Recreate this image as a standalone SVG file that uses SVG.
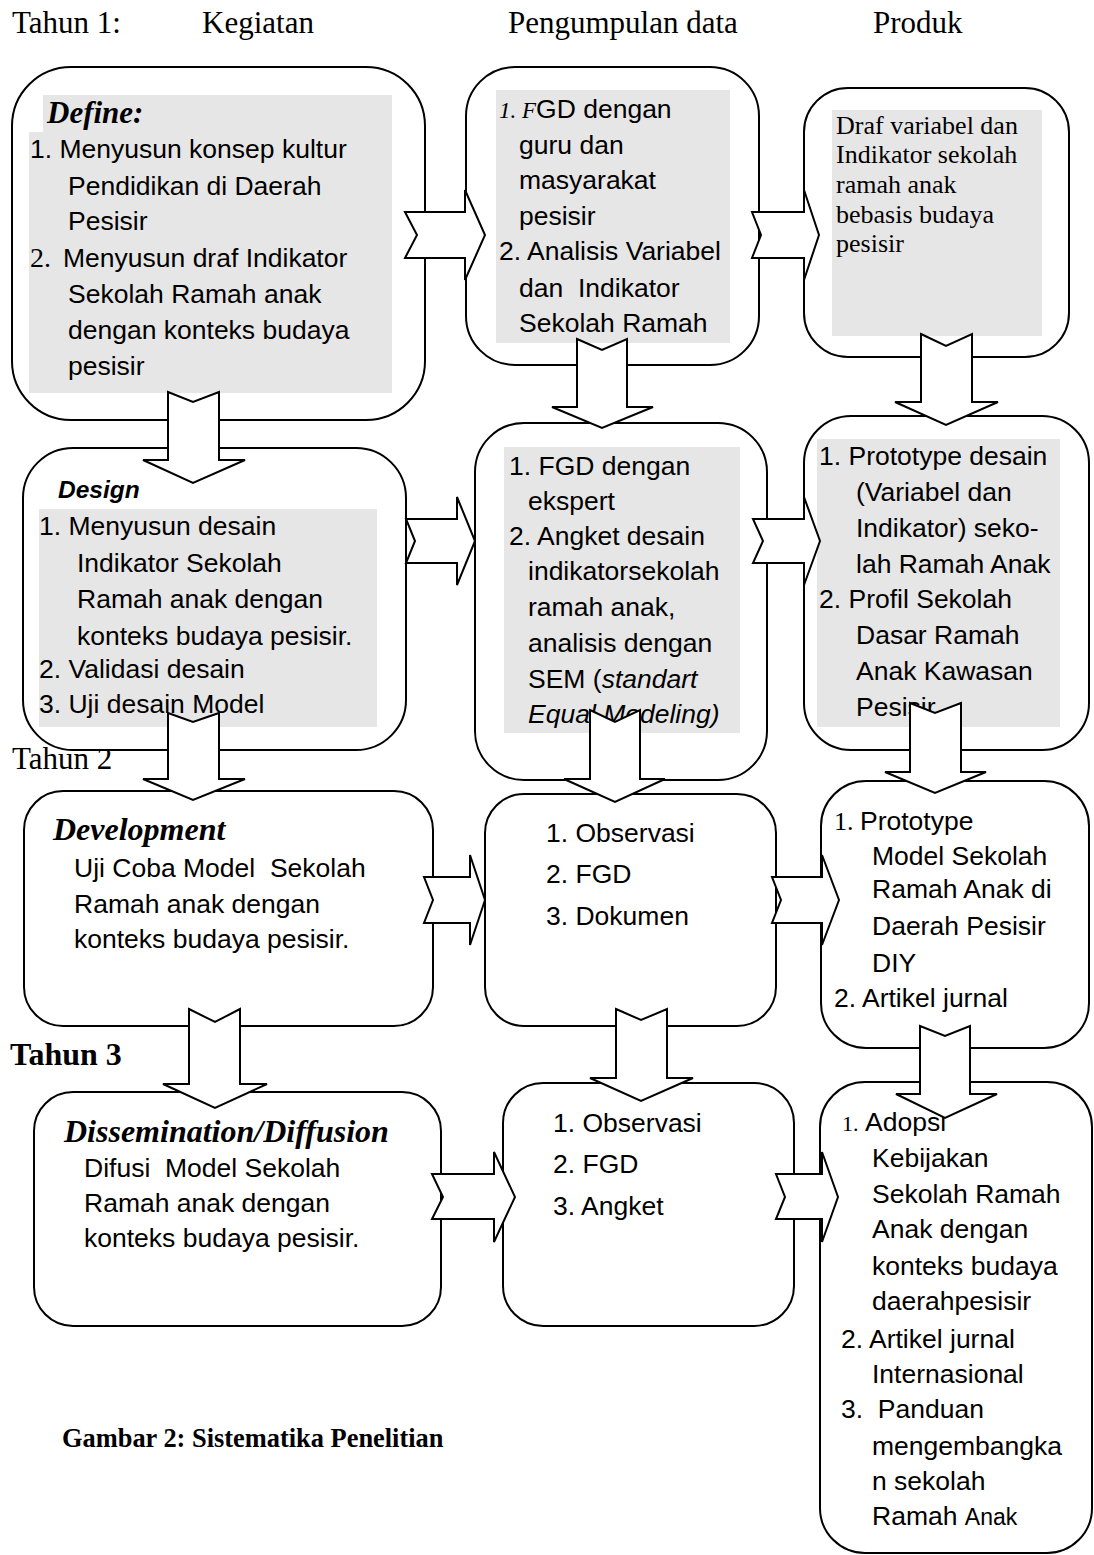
<svg xmlns="http://www.w3.org/2000/svg" width="1094" height="1555" viewBox="0 0 1094 1555">
  <style>
    .box { fill: #fff; stroke: #000; stroke-width: 2; }
    .grey { fill: #e6e6e6; }
    .arrow { fill: #fff; stroke: #000; stroke-width: 2; stroke-linejoin: miter; }
    text { white-space: pre; fill: #000; }
    .t { font-family: "Liberation Sans", Arial, sans-serif; font-size: 26.5px; }
    .ser { font-family: "Liberation Serif", "Times New Roman", serif; }
    .hd { font-family: "Liberation Serif", "Times New Roman", serif; font-size: 31px; }
    .phase { font-family: "Liberation Serif", "Times New Roman", serif; font-size: 32px; font-weight: bold; font-style: italic; }
    .it { font-style: italic; }
  </style>
  <rect width="1094" height="1555" fill="#fff"/>

  <!-- column headers and year labels -->
  <g id="labels">
    <text class="hd" x="12" y="33">Tahun 1:</text>
    <text class="hd" x="202" y="33">Kegiatan</text>
    <text class="hd" x="508" y="33">Pengumpulan data</text>
    <text class="hd" x="873" y="33">Produk</text>
    <text class="hd" x="12" y="769">Tahun 2</text>
    <text class="hd" x="10" y="1065" style="font-size:32px;font-weight:bold">Tahun 3</text>
    <text class="hd" x="62" y="1447" style="font-size:26.4px;font-weight:bold">Gambar 2: Sistematika Penelitian</text>
  </g>

  <!-- Tahun 1, Define -->
  <g id="define">
    <rect class="box" x="12" y="67" width="413" height="353" rx="59"/>
    <path class="grey" d="M43 95H392V393H29V132H43Z"/>
    <text class="phase" x="47" y="123" style="font-size:31px">Define:</text>
    <text class="t" x="30" y="158">1. Menyusun konsep kultur</text>
    <text class="t" x="68" y="195">Pendidikan di Daerah</text>
    <text class="t" x="68" y="230">Pesisir</text>
    <text class="t ser" x="30" y="267" style="font-size:28px">2.</text>
    <text class="t" x="63" y="267">Menyusun draf Indikator</text>
    <text class="t" x="68" y="303">Sekolah Ramah anak</text>
    <text class="t" x="68" y="339">dengan konteks budaya</text>
    <text class="t" x="68" y="375">pesisir</text>
  </g>

  <g id="fgd-guru">
    <rect class="box" x="466" y="67" width="293" height="298" rx="49"/>
    <rect class="grey" x="496" y="90" width="234" height="253"/>
    <text class="t" x="499" y="118"><tspan class="ser it" font-size="23">1. F</tspan>GD dengan</text>
    <text class="t" x="519" y="154">guru dan</text>
    <text class="t" x="519" y="189">masyarakat</text>
    <text class="t" x="519" y="225">pesisir</text>
    <text class="t" x="499" y="260">2. Analisis Variabel</text>
    <text class="t" x="519" y="297">dan  Indikator</text>
    <text class="t" x="519" y="332">Sekolah Ramah</text>
  </g>

  <g id="draf">
    <rect class="box" x="804" y="88" width="265" height="269" rx="44"/>
    <rect class="grey" x="832" y="110" width="210" height="226"/>
    <text class="ser" x="836" y="134" font-size="26">Draf variabel dan</text>
    <text class="ser" x="836" y="163" font-size="26">Indikator sekolah</text>
    <text class="ser" x="836" y="193" font-size="26">ramah anak</text>
    <text class="ser" x="836" y="223" font-size="26">bebasis budaya</text>
    <text class="ser" x="836" y="252" font-size="26">pesisir</text>
  </g>

  <!-- Design -->
  <g id="design">
    <rect class="box" x="23" y="448" width="383" height="302" rx="50"/>
    <rect class="grey" x="39" y="509" width="338" height="218"/>
    <text class="t" x="58" y="498" style="font-size:24.5px;font-weight:bold;font-style:italic">Design</text>
    <text class="t" x="39" y="535">1. Menyusun desain</text>
    <text class="t" x="77" y="572">Indikator Sekolah</text>
    <text class="t" x="77" y="608">Ramah anak dengan</text>
    <text class="t" x="77" y="645">konteks budaya pesisir.</text>
    <text class="t" x="39" y="678">2. Validasi desain</text>
    <text class="t" x="39" y="713">3. Uji desain Model</text>
  </g>

  <g id="fgd-ekspert">
    <rect class="box" x="475" y="423" width="292" height="357" rx="49"/>
    <rect class="grey" x="504" y="447" width="236" height="286"/>
    <text class="t" x="509" y="475">1. FGD dengan</text>
    <text class="t" x="528" y="510">ekspert</text>
    <text class="t" x="509" y="545">2. Angket desain</text>
    <text class="t" x="528" y="580">indikatorsekolah</text>
    <text class="t" x="528" y="616">ramah anak,</text>
    <text class="t" x="528" y="652">analisis dengan</text>
    <text class="t" x="528" y="688">SEM (<tspan class="it">standart</tspan></text>
    <text class="t it" x="528" y="723">Equal Modeling)</text>
  </g>

  <g id="prototype-desain">
    <rect class="box" x="804" y="416" width="285" height="334" rx="47"/>
    <rect class="grey" x="817" y="439" width="243" height="288"/>
    <text class="t" x="819" y="465">1. Prototype desain</text>
    <text class="t" x="856" y="501">(Variabel dan</text>
    <text class="t" x="856" y="537">Indikator) seko-</text>
    <text class="t" x="856" y="573">lah Ramah Anak</text>
    <text class="t" x="819" y="608">2. Profil Sekolah</text>
    <text class="t" x="856" y="644">Dasar Ramah</text>
    <text class="t" x="856" y="680">Anak Kawasan</text>
    <text class="t" x="856" y="716">Pesisir</text>
  </g>

  <!-- Tahun 2, Development -->
  <g id="development">
    <rect class="box" x="24" y="791" width="409" height="235" rx="39"/>
    <text class="phase" x="53" y="840">Development</text>
    <text class="t" x="74" y="877">Uji Coba Model  Sekolah</text>
    <text class="t" x="74" y="913">Ramah anak dengan</text>
    <text class="t" x="74" y="948">konteks budaya pesisir.</text>
  </g>

  <g id="observasi-dokumen">
    <rect class="box" x="485" y="794" width="291" height="232" rx="39"/>
    <text class="t" x="546" y="842">1. Observasi</text>
    <text class="t" x="546" y="883">2. FGD</text>
    <text class="t" x="546" y="925">3. Dokumen</text>
  </g>

  <g id="prototype-model">
    <rect class="box" x="821" y="781" width="268" height="267" rx="45"/>
    <text class="t ser" x="834" y="830" style="font-size:26px">1.</text>
    <text class="t" x="860" y="830">Prototype</text>
    <text class="t" x="872" y="865">Model Sekolah</text>
    <text class="t" x="872" y="898">Ramah Anak di</text>
    <text class="t" x="872" y="935">Daerah Pesisir</text>
    <text class="t" x="872" y="972">DIY</text>
    <text class="t" x="834" y="1007">2. Artikel jurnal</text>
  </g>

  <!-- Tahun 3, Dissemination -->
  <g id="dissemination">
    <rect class="box" x="34" y="1092" width="407" height="234" rx="39"/>
    <text class="phase" x="64" y="1142">Dissemination/Diffusion</text>
    <text class="t" x="84" y="1177">Difusi  Model Sekolah</text>
    <text class="t" x="84" y="1212">Ramah anak dengan</text>
    <text class="t" x="84" y="1247">konteks budaya pesisir.</text>
  </g>

  <g id="observasi-angket">
    <rect class="box" x="503" y="1083" width="291" height="243" rx="40"/>
    <text class="t" x="553" y="1132">1. Observasi</text>
    <text class="t" x="553" y="1173">2. FGD</text>
    <text class="t" x="553" y="1215">3. Angket</text>
  </g>

  <g id="adopsi">
    <rect class="box" x="820" y="1082" width="272" height="471" rx="45"/>
    <text class="t ser" x="842" y="1131" style="font-size:22px">1.</text>
    <text class="t" x="865" y="1131">Adopsi</text>
    <text class="t" x="872" y="1167">Kebijakan</text>
    <text class="t" x="872" y="1203">Sekolah Ramah</text>
    <text class="t" x="872" y="1238">Anak dengan</text>
    <text class="t" x="872" y="1275">konteks budaya</text>
    <text class="t" x="872" y="1310">daerahpesisir</text>
    <text class="t" x="841" y="1348">2. Artikel jurnal</text>
    <text class="t" x="872" y="1383">Internasional</text>
    <text class="t" x="841" y="1418">3.  Panduan</text>
    <text class="t" x="872" y="1455">mengembangka</text>
    <text class="t" x="872" y="1490">n sekolah</text>
    <text class="t" x="872" y="1525">Ramah <tspan font-size="23">Anak</tspan></text>
  </g>

  <!-- notched block arrows, drawn over the boxes -->
  <g id="connectors">
    <!-- horizontal -->
    <path class="arrow" d="M405 212H465V190L485 235L465 280V258H405L417 235Z"/>
    <path class="arrow" d="M752 212H804V190L819 235L804 280V258H752L761 235Z"/>
    <path class="arrow" d="M406 519H457V497L475 541L457 585V563H406L415 541Z"/>
    <path class="arrow" d="M753 519H804V497L820 541L804 585V563H753L763 541Z"/>
    <path class="arrow" d="M424 877H470V855L485 900L470 945V923H424L433 900Z"/>
    <path class="arrow" d="M772 877H822V855L839 900L822 945V923H772L781 900Z"/>
    <path class="arrow" d="M432 1174H494V1152L515 1197L494 1242V1219H432L443 1197Z"/>
    <path class="arrow" d="M776 1174H822V1152L838 1197L822 1242V1219H776L785 1197Z"/>
    <!-- vertical -->
    <path class="arrow" d="M168 392L193 402L219 392V460H245L193 483L143 460H168Z"/>
    <path class="arrow" d="M168 713L193 722L219 713V779H245L193 800L143 779H168Z"/>
    <path class="arrow" d="M577 339L602 350L627 339V407H653L602 428L552 407H577Z"/>
    <path class="arrow" d="M921 334L946 346L972 334V402H998L946 425L895 402H921Z"/>
    <path class="arrow" d="M590 710L615 722L640 710V779H665L615 802L564 779H590Z"/>
    <path class="arrow" d="M910 703L935 713L961 703V772H986L935 793L885 772H910Z"/>
    <path class="arrow" d="M189 1009L215 1022L240 1009V1084H267L215 1108L163 1084H189Z"/>
    <path class="arrow" d="M616 1009L641 1020L667 1009V1078H693L641 1101L590 1078H616Z"/>
    <path class="arrow" d="M920 1026L945 1036L970 1026V1094H997L945 1118L896 1094H920Z"/>
  </g>
</svg>
